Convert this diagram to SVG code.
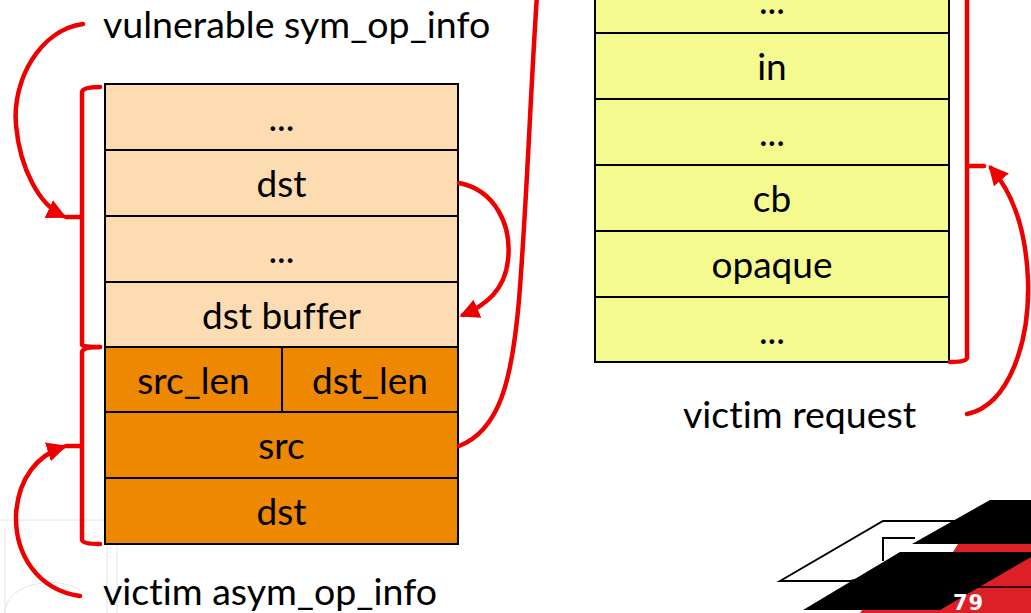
<svg xmlns="http://www.w3.org/2000/svg" width="1031" height="613" viewBox="0 0 1031 613">
<style>
  .t { font-family: Lato, "Open Sans", "Liberation Sans", sans-serif; font-size: 37px; fill: #000; text-anchor: middle; font-variant-ligatures: none; }
  .lbl { font-family: Lato, "Open Sans", "Liberation Sans", sans-serif; font-size: 37.5px; fill: #000; font-variant-ligatures: none; }
  .cell { stroke: #000; stroke-width: 2; }
  .peach { fill: #FDDCB1; }
  .orange { fill: #EE8800; }
  .yellow { fill: #F4FA8E; }
  .red { fill: none; stroke: #EE0000; stroke-width: 4.5; stroke-linecap: round; stroke-linejoin: round; }
  .bg { fill: none; stroke: #E4E4E4; stroke-width: 1; }
</style>
<defs>
  <marker id="ah" viewBox="0 0 10 10" refX="8" refY="5" markerWidth="4.4" markerHeight="4.4" orient="auto" markerUnits="strokeWidth">
    <path d="M0,0 L10,5 L0,10 z" fill="#EE0000"/>
  </marker>
</defs>
<rect width="1031" height="613" fill="#fff"/>

<g id="background">
  <line class="bg" x1="0" y1="520" x2="112" y2="520"/>
  <line class="bg" x1="5" y1="528" x2="5" y2="613"/>
  <line class="bg" x1="107" y1="528" x2="107" y2="613"/>
  <line class="bg" x1="117" y1="545" x2="117" y2="613"/>
  <path class="bg" d="M5,613 A45,30 0 0 1 80,590"/>
</g>

<g id="sym_op_info">
  <rect class="cell peach" x="105" y="84" width="353" height="66"/>
  <text class="t" x="281.5" y="131">...</text>
  <rect class="cell peach" x="105" y="150" width="353" height="66"/>
  <text class="t" x="281.5" y="197">dst</text>
  <rect class="cell peach" x="105" y="216" width="353" height="66"/>
  <text class="t" x="281.5" y="263">...</text>
  <rect class="cell peach" x="105" y="282" width="353" height="65"/>
  <text class="t" x="281.5" y="329">dst buffer</text>
</g>

<g id="asym_op_info">
  <rect class="cell orange" x="105" y="347" width="177" height="65"/>
  <text class="t" x="193.5" y="394">src_len</text>
  <rect class="cell orange" x="282" y="347" width="176" height="65"/>
  <text class="t" x="370" y="394">dst_len</text>
  <rect class="cell orange" x="105" y="412" width="353" height="66"/>
  <text class="t" x="281.5" y="459">src</text>
  <rect class="cell orange" x="105" y="478" width="353" height="66"/>
  <text class="t" x="281.5" y="525">dst</text>
</g>

<g id="request">
  <rect class="cell yellow" x="595" y="-33" width="354" height="66"/>
  <text class="t" x="772" y="14">...</text>
  <rect class="cell yellow" x="595" y="33" width="354" height="66"/>
  <text class="t" x="772" y="80">in</text>
  <rect class="cell yellow" x="595" y="99" width="354" height="66"/>
  <text class="t" x="772" y="146">...</text>
  <rect class="cell yellow" x="595" y="165" width="354" height="66"/>
  <text class="t" x="772" y="212">cb</text>
  <rect class="cell yellow" x="595" y="231" width="354" height="66"/>
  <text class="t" x="772" y="278">opaque</text>
  <rect class="cell yellow" x="595" y="297" width="354" height="65"/>
  <text class="t" x="772" y="344">...</text>
</g>

<g id="labels">
  <text class="lbl" x="103" y="38">vulnerable sym_op_info</text>
  <text class="lbl" x="103" y="605">victim asym_op_info</text>
  <text class="lbl" x="683" y="428">victim request</text>
</g>

<g id="connectors">
  <path class="red" d="M100,87 Q83,87 82,92 L82,345 Q83,347 100,347 M82,217 L66,217"/>
  <path class="red" d="M100,347 Q83,347 82,352 L82,540 Q83,544 100,544 M82,446 L66,446"/>
  <path class="red" d="M967,-5 L967,358 Q966,362 950,362 M967,166 L984,166"/>
  <path class="red" marker-end="url(#ah)" d="M83,24 C40,30 12,80 16,125 C20,170 40,205 63,216"/>
  <path class="red" marker-end="url(#ah)" d="M80,596 C38,590 15,555 16,515 C18,478 38,455 63,447"/>
  <path class="red" marker-end="url(#ah)" d="M459,183 C495,190 512,225 508,260 C505,290 486,305 463,315"/>
  <path class="red" d="M459,446 C500,430 512,380 519,300 C527,200 530,100 537,-5"/>
  <path class="red" marker-end="url(#ah)" d="M967,414 C1010,405 1030,340 1028,280 C1026,230 1012,192 991,168"/>
</g>

<g id="logo">
  <polygon points="780,581 883,521 962,521 962,560 850,581" fill="#fff" stroke="#000" stroke-width="2"/>
  <polyline points="883,561 883,538 915,538" fill="none" stroke="#000" stroke-width="2"/>
  <polygon points="958,544 1031,544 1031,613 860,613 900,552 953,552" fill="#DD1F26"/>
  <polygon points="990,500 1031,500 1031,544 912,544" fill="#000"/>
  <polygon points="900,552 1031,552 1031,557 940,610 803,610" fill="#000"/>
  <line x1="975" y1="587" x2="1031" y2="587" stroke="#000" stroke-width="1.5"/>
  <text x="953" y="610" font-family="'DejaVu Sans', sans-serif" font-size="21" font-weight="bold" letter-spacing="1" fill="#fff">79</text>
</g>
</svg>
